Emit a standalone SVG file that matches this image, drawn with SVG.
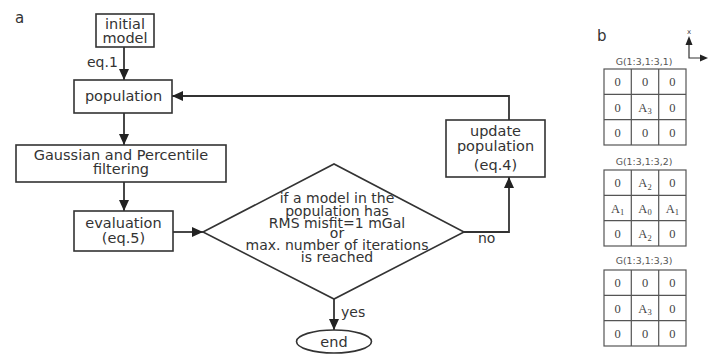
<svg xmlns="http://www.w3.org/2000/svg" width="710" height="354" viewBox="0 0 710 354">
<style>
.box{fill:#fff;stroke:#333;stroke-width:1.6}
.ln{fill:none;stroke:#333;stroke-width:1.8}
.t{font-family:"DejaVu Sans",sans-serif;font-size:14.5px;fill:#333;text-anchor:middle}
.d{font-family:"DejaVu Sans",sans-serif;font-size:14px;fill:#333;text-anchor:middle}
.lb{font-family:"DejaVu Sans",sans-serif;font-size:14px;fill:#333}
.g{font-family:"DejaVu Sans",sans-serif;font-size:9.4px;fill:#555;text-anchor:middle}
.grid{fill:#fff;stroke:#555;stroke-width:1.2}
.c{font-family:"Liberation Serif",serif;font-size:12.5px;fill:#444;text-anchor:middle}
.s{font-size:8.5px}
</style>
<defs>
<marker id="ah" markerUnits="userSpaceOnUse" markerWidth="12" markerHeight="10" refX="11" refY="5" orient="auto">
<path d="M0,0 L11,5 L0,10 Z" fill="#222"/>
</marker>
</defs>
<text x="15" y="23" class="lb" style="font-size:15px">a</text>
<text x="597" y="41" class="lb" style="font-size:15px">b</text>
<g id="connectors">
<line class="ln" x1="124" y1="47" x2="124" y2="80" marker-end="url(#ah)"/>
<line class="ln" x1="124" y1="113" x2="124" y2="145" marker-end="url(#ah)"/>
<line class="ln" x1="124" y1="182" x2="124" y2="211" marker-end="url(#ah)"/>
<line class="ln" x1="173" y1="232" x2="203" y2="232" marker-end="url(#ah)"/>
<polyline class="ln" points="464,232 509,232 509,177" marker-end="url(#ah)"/>
<polyline class="ln" points="509,120 509,96 172,96" marker-end="url(#ah)"/>
<line class="ln" x1="334" y1="299" x2="334" y2="330" marker-end="url(#ah)"/>
<text x="87" y="67" class="lb">eq.1</text>
<text x="478" y="243" class="lb">no</text>
<text x="341" y="317" class="lb">yes</text>
</g>
<g id="initial">
<rect class="box" x="96" y="14" width="58" height="33"/>
<text x="125" y="29" class="t">initial</text>
<text x="125" y="43" class="t">model</text>
</g>
<g id="population">
<rect class="box" x="74" y="80" width="98" height="33"/>
<text x="123.5" y="101" class="t">population</text>
</g>
<g id="filtering">
<rect class="box" x="16" y="145" width="210" height="37"/>
<text x="121" y="160" class="t">Gaussian and Percentile</text>
<text x="121" y="174" class="t">filtering</text>
</g>
<g id="evaluation">
<rect class="box" x="74" y="211" width="99" height="40"/>
<text x="123.5" y="228" class="t">evaluation</text>
<text x="123.5" y="243" class="t">(eq.5)</text>
</g>
<g id="decision">
<polygon class="box" points="203,232 334,164 464,232 334,299"/>
<text x="337" y="203" class="d">if a model in the</text>
<text x="337" y="216" class="d">population has</text>
<text x="337" y="228" class="d">RMS misfit=1  mGal</text>
<text x="337" y="238" class="d">or</text>
<text x="337" y="250" class="d">max. number of iterations</text>
<text x="337" y="262" class="d">is reached</text>
</g>
<g id="update">
<rect class="box" x="446" y="120" width="99" height="57"/>
<text x="495.5" y="136" class="t">update</text>
<text x="495.5" y="151" class="t">population</text>
<text x="495.5" y="170" class="t">(eq.4)</text>
</g>
<g id="end">
<ellipse class="box" cx="334" cy="341.5" rx="37.5" ry="11.5"/>
<text x="334" y="347" class="t">end</text>
</g>
<g id="axes">
<polyline class="ln" style="stroke-width:1.2" points="689,40 689,58 703,58"/>
<path d="M685.5,45 L689,36 L692.5,45 Z" fill="#222"/>
<path d="M700,54.5 L708,58 L700,61.5 Z" fill="#222"/>
<text x="689" y="34" class="g" style="font-size:7px;fill:#444">x</text>
</g>
<g id="grid1">
<text x="644" y="65" class="g">G(1:3,1:3,1)</text>
<rect class="grid" x="604" y="69" width="82" height="76"/>
<path class="grid" d="M631.3,69V145M658.7,69V145M604,94.3H686M604,119.7H686"/>
<text x="617.7" y="86" class="c">0</text><text x="645" y="86" class="c">0</text><text x="672.3" y="86" class="c">0</text>
<text x="617.7" y="111.5" class="c">0</text><text x="645" y="111.5" class="c">A<tspan class="s" dy="2.5">3</tspan></text><text x="672.3" y="111.5" class="c">0</text>
<text x="617.7" y="137" class="c">0</text><text x="645" y="137" class="c">0</text><text x="672.3" y="137" class="c">0</text>
</g>
<g id="grid2">
<text x="644" y="165" class="g">G(1:3,1:3,2)</text>
<rect class="grid" x="604" y="170" width="82" height="76"/>
<path class="grid" d="M631.3,170V246M658.7,170V246M604,195.3H686M604,220.7H686"/>
<text x="617.7" y="187" class="c">0</text><text x="645" y="187" class="c">A<tspan class="s" dy="2.5">2</tspan></text><text x="672.3" y="187" class="c">0</text>
<text x="617.7" y="212.5" class="c">A<tspan class="s" dy="2.5">1</tspan></text><text x="645" y="212.5" class="c">A<tspan class="s" dy="2.5">0</tspan></text><text x="672.3" y="212.5" class="c">A<tspan class="s" dy="2.5">1</tspan></text>
<text x="617.7" y="238" class="c">0</text><text x="645" y="238" class="c">A<tspan class="s" dy="2.5">2</tspan></text><text x="672.3" y="238" class="c">0</text>
</g>
<g id="grid3">
<text x="644" y="264" class="g">G(1:3,1:3,3)</text>
<rect class="grid" x="604" y="270" width="82" height="76"/>
<path class="grid" d="M631.3,270V346M658.7,270V346M604,295.3H686M604,320.7H686"/>
<text x="617.7" y="287" class="c">0</text><text x="645" y="287" class="c">0</text><text x="672.3" y="287" class="c">0</text>
<text x="617.7" y="312.5" class="c">0</text><text x="645" y="312.5" class="c">A<tspan class="s" dy="2.5">3</tspan></text><text x="672.3" y="312.5" class="c">0</text>
<text x="617.7" y="338" class="c">0</text><text x="645" y="338" class="c">0</text><text x="672.3" y="338" class="c">0</text>
</g>
</svg>
